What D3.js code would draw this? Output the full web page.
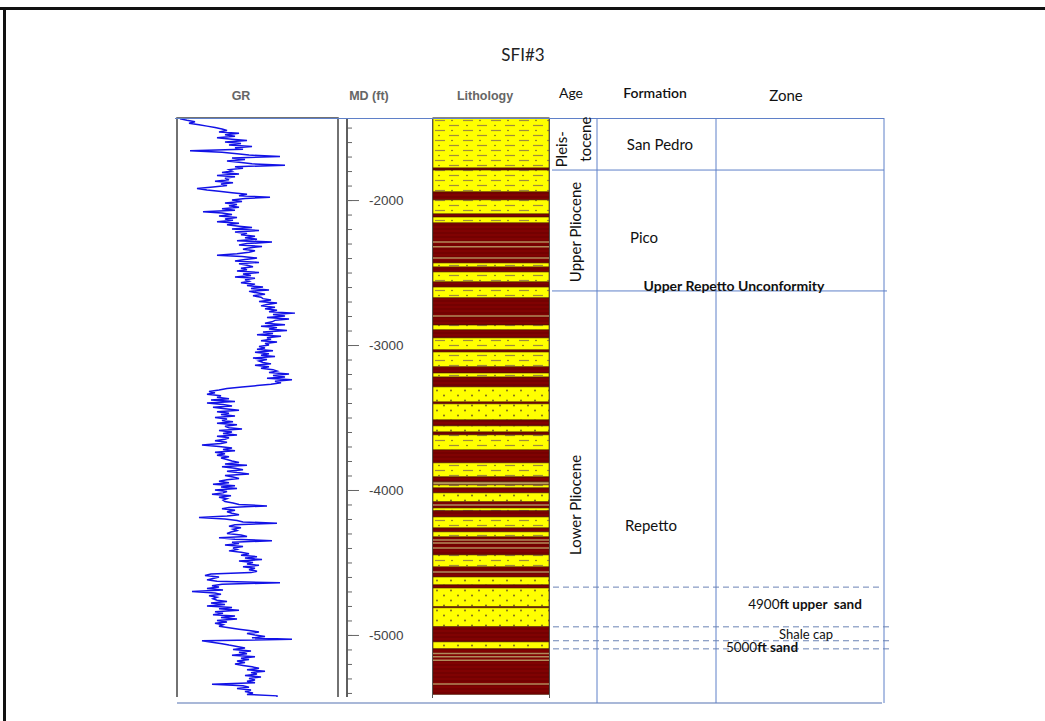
<!DOCTYPE html>
<html><head><meta charset="utf-8">
<script src="https://cdn.jsdelivr.net/npm/d3@7"></script>
<style>body{margin:0;background:#fff} svg{display:block} text{white-space:pre}</style>
</head><body><svg id="c" width="1045" height="721"></svg>
<script>
// ---------------- DATA ----------------
const title = "SFI#3";
const trackHeaders = ["GR", "MD (ft)", "Lithology"];
const tableHeaders = ["Age", "Formation", "Zone"];

// GR log, sampled every 10 ft starting at 1440 ft (API units)
const grStartDepth = 1440, grStep = 10;
const grValues = [
  3,10,18,12, 22,30,38,45, 50,42,62,48,58,40, 55,70,48,64,52,75,58,66,
  13,45, 60,72,103,55,68,50, 62,75,108,58,66,52,
  55,45,62,40,58,48,52,38,56,44,50,36, 20,30,42,55, 70,62,93,68,
  55,65,48,60,52,62,45,58, 26,45,55,42,60,48,56,40,62,50,
  62,75,55,82,58,70,64,78, 68,80,60,95,70,62,85,72,66,78,
  72,60,40,65,80,68,58,82,62,70,76,64, 70,60,82,66,74,58,78,68,72,64,
  78,70,86,74,92,72,80,88,76,84, 86,94,82,100,90,84,98,88,
  100,92,118,96,108,90,112,98,
  95,88,108,84,100,92,110,86,96,80,104,90,94,84,100,88,92,82,
  88,80,96,78,92,84,98,76,90,82,86,94,78,92,84,96,
  100,92,112,96,108,90,115,98,104,94, 80,65,50,42,32,38,30,44,
  40,52,34,58,30,46,55,36,48,62,40,52,44,58,38,50,
  45,56,40,60,48,52,65,42,55,46,60,40,52,48,
  38,50,44,25,42,55,46,58,38,48,40,52,44,50,
  55,62,48,70,45,58,66,50,60,72,48,56,62,50,
  42,52,36,58,44,60,38,50,46,35,54,42,50,46,
  48,56,62,90,52,45,58,50,
  55,62,50,22,48,60,66,100,58,52,64,56,60,54,
  50,64,70,42,58,95,55,62,48,66,56,60,52,64,
  72,64,80,68,85,62,76,70,82,66,78,72,80,74,
  34,28,42,36,30,40,103,45, 35,42,30,46,15,38,44,32,40,36,
  40,50,34,48,30,55,42,62,38,46,36,58,44,60,40,50,38,46,42,52,
  62,72,82,70,78,88,75,115, 25,35,45,52,
  60,68,56,74,62,70,55,78,64,72,60,68,58,66,
  75,82,70,88,74,80,68,84,72,78, 70,78,35,66,72,60,74,68,76,70, 100
];
const grEndDepth = 5428;

// MD axis
const mdMinorTicks = d3.range(-1500, -5401, -100);
const mdMajorTicks = [-2000, -3000, -4000, -5000];

// Lithology: top depth (ft) and rock type; each bed ends at the next top
const lithTops = [1434,1779,1793,1944,1999,2096,2117,2158,2434,2462,2496,2565,2600,2675,
  2862,2896,2951,3034,3048,3151,3193,3221,3289,3393,3406,3517,3558,3600,3620,3724,
  3813,3910,3944,3965,3986,4020,4082,4124,4144,4186,4262,4289,4324,4448,4531,4600,
  4655,4676,4806,4813,4944,5048,5096];
const lithTypes = ["shsand","shale","shsand","shale","shsand","shale","shsand","shale","shsand","shale","shsand","shale","shsand","shale",
  "shsand","shale","shsand","shale","shsand","shale","shsand","shale","sand","shale","sand","shale","sand","shale","shsand","shale",
  "shsand","shale","silt","shsand","shale","sand","shale","shsand","shale","shsand","shale","shsand","shale","shsand","shale","sand",
  "shale","sand","shale","sand","shale","sand","shale"];
const lithBase = 5410;
const siltStreaks = [2289,2322,2400,2800,4103,4345,4365,4400,4565,5128,5150,5175,5338];

// Age / Formation / Zone
const ageNames = [["Pleis-","tocene"], ["Upper Pliocene"], ["Lower Pliocene"]];
const ageLabelDepths = [[1650,1580], [2220], [4103]];
const formationTops = [1434, 1793, 2627];
const formationNames = ["San Pedro", "Pico", "Repetto"];
const formationLabelDepths = [1620, 2262, 4250];
const unconformityName = "Upper Repetto Unconformity";
const zoneBoundaries = [4670, 4944, 5040, 5096];
const zoneLabels = [["4900","ft upper  sand"], ["","Shale cap"], ["5000","ft sand"]];
const zoneLabelDepths = [4793, 5000, 5088];

// ---------------- DRAW ----------------
const svg = d3.select("#c");
const W = 1045, H = 721;
const sans = "'Liberation Sans', Arial, sans-serif";
const cal = "Lato, 'Open Sans', sans-serif";

// frame
svg.append("line").attr("x1",0).attr("x2",W).attr("y1",8.5).attr("y2",8.5).attr("stroke","#111").attr("stroke-width",3);
svg.append("line").attr("x1",4.5).attr("x2",4.5).attr("y1",7).attr("y2",H).attr("stroke","#111").attr("stroke-width",3);

const y = d3.scaleLinear().domain([1434, 5428]).range([118, 697]);
const yMD = d3.scaleLinear().domain([-1434, -5428]).range([118, 697]);
const xGR = d3.scaleLinear().domain([0, 161]).range([177, 338]);

// title & headers
svg.append("text").attr("x",523).attr("y",61).attr("text-anchor","middle")
  .attr("font-family",cal).attr("font-size",17).attr("fill","#222").text(title);
const hx = [241, 369, 485];
trackHeaders.forEach((t,i)=>svg.append("text").attr("x",hx[i]).attr("y",100).attr("text-anchor","middle")
  .attr("font-family",sans).attr("font-size",12.5).attr("font-weight","bold").attr("fill","#666").text(t));
const tx = [571, 655, 786], tfs=[14,14,15], tw=["normal","600","normal"], ty=[98,98,101];
tableHeaders.forEach((t,i)=>svg.append("text").attr("x",tx[i]).attr("y",ty[i]).attr("text-anchor","middle")
  .attr("font-family",cal).attr("font-size",tfs[i]).attr("font-weight",tw[i]).attr("fill","#111").text(t));

// patterns
const defs = svg.append("defs");
const p1 = defs.append("pattern").attr("id","shsand").attr("patternUnits","userSpaceOnUse")
  .attr("width",28).attr("height",10).attr("x",433).attr("y",118);
p1.append("rect").attr("width",28).attr("height",10).attr("fill","#ffff00");
[[2,12,2.5],[16,26,7.5]].forEach(d=>p1.append("line").attr("x1",d[0]).attr("x2",d[1]).attr("y1",d[2]).attr("y2",d[2]).attr("stroke","#a08c3c").attr("stroke-width",1.2));
[[19,2.5],[6,7.5]].forEach(d=>p1.append("circle").attr("cx",d[0]).attr("cy",d[1]).attr("r",0.8).attr("fill","#6b5b2a"));
const p2 = defs.append("pattern").attr("id","sand").attr("patternUnits","userSpaceOnUse")
  .attr("width",14).attr("height",10).attr("x",433).attr("y",118);
p2.append("rect").attr("width",14).attr("height",10).attr("fill","#ffff00");
[[4,2.5],[11,7.5]].forEach(d=>p2.append("circle").attr("cx",d[0]).attr("cy",d[1]).attr("r",1).attr("fill","#7a6a20"));
const p3 = defs.append("pattern").attr("id","shale").attr("patternUnits","userSpaceOnUse")
  .attr("width",10).attr("height",4).attr("x",433).attr("y",118);
p3.append("rect").attr("width",10).attr("height",4).attr("fill","#800202");
p3.append("line").attr("x1",0).attr("x2",10).attr("y1",3).attr("y2",3).attr("stroke","#680000").attr("stroke-width",1);
const fillOf = {shsand:"url(#shsand)", sand:"url(#sand)", shale:"url(#shale)", silt:"#b89a5a"};

// GR track
const gr = svg.append("g");
gr.append("path").attr("d",`M177,697V118H338V697`).attr("fill","none").attr("stroke","#444").attr("stroke-width",1.5);
const grData = grValues.map((v,i)=>({d: grStartDepth + i*grStep, v}));
grData.push({d: grEndDepth, v: grValues[grValues.length-1]});
gr.append("path").datum(grData)
  .attr("d", d3.line().x(p=>xGR(p.v)).y(p=>y(p.d)))
  .attr("fill","none").attr("stroke","#1212e6").attr("stroke-width",1.5).attr("stroke-linejoin","miter");

// MD axis
const axG = svg.append("g").attr("transform","translate(347,0)");
axG.call(d3.axisRight(yMD).tickValues(mdMinorTicks).tickSize(5).tickFormat(""));
const axM = svg.append("g").attr("transform","translate(347,0)");
axM.call(d3.axisRight(yMD).tickValues(mdMajorTicks).tickSize(12).tickPadding(10).tickFormat(d=>d));
[axG, axM].forEach(a=>{
  a.select(".domain").attr("stroke","#555").attr("stroke-width",1.5).attr("d","M0,118V697");
  a.selectAll(".tick line").attr("stroke","#666");
});
axM.selectAll(".tick text").attr("font-family",sans).attr("font-size",13.5).attr("fill","#444");

// Lithology column
const lith = svg.append("g");
lithTops.forEach((t,i)=>{
  const b = i < lithTops.length-1 ? lithTops[i+1] : lithBase;
  lith.append("rect").attr("x",433).attr("width",116).attr("y",y(t)).attr("height",y(b)-y(t))
    .attr("fill",fillOf[lithTypes[i]]).attr("stroke","#4a1800").attr("stroke-width",0.6);
});
siltStreaks.forEach(d=>lith.append("line").attr("x1",433).attr("x2",549).attr("y1",y(d)).attr("y2",y(d))
  .attr("stroke","#b08a5a").attr("stroke-width",1.5));
lith.append("path").attr("d","M432.5,698V118H549.5V698").attr("fill","none").attr("stroke","#555").attr("stroke-width",1);

// table lines
const blue = "#5f80c8";
svg.append("line").attr("x1",175).attr("x2",884).attr("y1",118.5).attr("y2",118.5).attr("stroke",blue).attr("stroke-width",1.2);
svg.append("line").attr("x1",177).attr("x2",882).attr("y1",703).attr("y2",703).attr("stroke","#a9b8d8").attr("stroke-width",2);
formationTops.slice(1).forEach((d,i)=>svg.append("line").attr("x1",552).attr("x2",i==1?887:884)
  .attr("y1",y(d)).attr("y2",y(d)).attr("stroke",blue).attr("stroke-width",1));
[597, 716, 884].forEach(x=>svg.append("line").attr("x1",x).attr("x2",x).attr("y1",118).attr("y2",703).attr("stroke",blue).attr("stroke-width",1));
zoneBoundaries.forEach((d,i)=>svg.append("line").attr("x1",553).attr("x2",i==0?880:890)
  .attr("y1",y(d)).attr("y2",y(d)).attr("stroke","#6a82b4").attr("stroke-width",1).attr("stroke-dasharray","6,4"));

// Age labels
const ageX = [[562,586],[576],[576]];
ageNames.forEach((lines,i)=>lines.forEach((t,j)=>{
  svg.append("text").attr("transform",`translate(${ageX[i][j]+5},${y(ageLabelDepths[i][j])}) rotate(-90)`)
    .attr("text-anchor","middle").attr("font-family",cal).attr("font-size",15).attr("fill","#111").text(t);
}));
// Formation labels
const fx = [660, 644, 651];
formationNames.forEach((t,i)=>svg.append("text").attr("x",fx[i]).attr("y",y(formationLabelDepths[i])+5)
  .attr("text-anchor","middle").attr("font-family",cal).attr("font-size",15).attr("fill","#111").text(t));
svg.append("text").attr("x",734).attr("y",y(formationTops[2])).attr("text-anchor","middle")
  .attr("font-family",cal).attr("font-size",14).attr("font-weight","bold").attr("fill","#111").text(unconformityName);

// Zone labels
const zx = [805, 806, 762];
zoneLabels.forEach((z,i)=>{
  const t = svg.append("text").attr("x",zx[i]).attr("y",y(zoneLabelDepths[i])+4).attr("text-anchor","middle")
    .attr("font-family",cal).attr("font-size",i==1?13:13.5).attr("fill","#111");
  if (z[0]) t.append("tspan").text(z[0]);
  t.append("tspan").attr("font-weight", i==1 ? "normal" : "bold").text(z[1]);
});
</script></body></html>
